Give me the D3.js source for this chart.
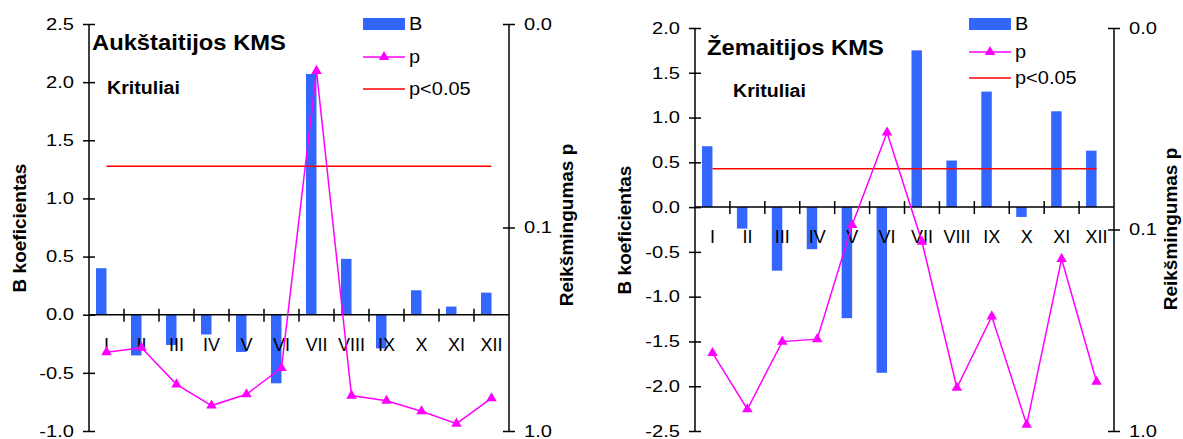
<!DOCTYPE html>
<html>
<head>
<meta charset="utf-8">
<script src="https://cdn.jsdelivr.net/npm/d3@7"></script>
<style>
  html, body { margin: 0; padding: 0; background: #fff; }
  svg { display: block; font-family: "Liberation Sans", Arial, sans-serif; }
</style>
</head>
<body>
<svg id="chart" width="1183" height="439"></svg>
<script>
// ---------- data ----------
const months = ["I", "II", "III", "IV", "V", "VI", "VII", "VIII", "IX", "X", "XI", "XII"];
const aukB = [0.40, -0.35, -0.26, -0.17, -0.32, -0.59, 2.07, 0.48, -0.29, 0.21, 0.07, 0.19];
const aukP = [0.41, 0.39, 0.59, 0.75, 0.66, 0.49, 0.017, 0.67, 0.71, 0.80, 0.92, 0.69];
const zemB = [0.68, -0.24, -0.71, -0.47, -1.24, -1.85, 1.75, 0.52, 1.29, -0.11, 1.07, 0.63];
const zemP = [0.41, 0.78, 0.36, 0.35, 0.095, 0.033, 0.115, 0.61, 0.27, 0.93, 0.14, 0.57];
const pThreshold = 0.05;
const aukBTicks = [-1.0, -0.5, 0.0, 0.5, 1.0, 1.5, 2.0, 2.5];
const zemBTicks = [-2.5, -2.0, -1.5, -1.0, -0.5, 0.0, 0.5, 1.0, 1.5, 2.0];
const pTicks = [0.01, 0.1, 1];
const legendLabels = ["B", "p", "p<0.05"];
const panelTitles = ["Aukštaitijos KMS", "Žemaitijos KMS"];
const subtitle = "Krituliai";
const yTitleLeft = "B koeficientas";
const yTitleRight = "Reikšmingumas p";

// ---------- layout ----------
const panels = [
  { title: panelTitles[0], B: aukB, P: aukP, bTicks: aukBTicks, bDomain: [-1.0, 2.5],
    x0: 89, x1: 509, top: 24, bottom: 431,
    titlePos: [92, 50], subPos: [107, 94],
    legX: 363, legY: [24, 57, 89],
    lTitleX: 19, lTitleY: 228, rTitleX: 566, rTitleY: 225 },
  { title: panelTitles[1], B: zemB, P: zemP, bTicks: zemBTicks, bDomain: [-2.5, 2.0],
    x0: 695, x1: 1114, top: 28, bottom: 431,
    titlePos: [707, 55], subPos: [733, 97],
    legX: 969, legY: [24, 52, 78],
    lTitleX: 624.5, lTitleY: 230, rTitleX: 1170, rTitleY: 229 }
];

const BAR = "#3366FF", PCOL = "#FF00FF", RED = "#FF0000";
const svg = d3.select("#chart");
svg.append("rect").attr("width", 1183).attr("height", 439).attr("fill", "#fff");

function txt(g, x, y, s, o) {
  o = o || {};
  const t = g.append("text")
    .attr("transform", `translate(${x},${y})` + (o.rot ? ` rotate(${o.rot})` : "") + ` scale(${o.sx || 1},1)`)
    .attr("font-size", o.size || 16)
    .attr("font-weight", o.weight || "normal")
    .attr("text-anchor", o.anchor || "start")
    .attr("fill", "#000")
    .text(s);
  if (o.mid) t.attr("dy", "0.35em");
  return t;
}

const tri = d3.symbol().type(d3.symbolTriangle).size(48);

panels.forEach(pn => {
  const g = svg.append("g");
  const x = d3.scaleBand().domain(months).range([pn.x0, pn.x1]).padding(0);
  const y = d3.scaleLinear().domain(pn.bDomain).range([pn.bottom, pn.top]);
  const yp = d3.scaleLog().domain([0.01, 1]).range([pn.top, pn.bottom]);
  const bw = x.bandwidth();
  const barW = bw * 0.3;
  const cx = m => x(m) + bw / 2;

  // bars
  g.append("g").selectAll("rect").data(months).join("rect")
    .attr("x", (m) => cx(m) - barW)
    .attr("width", barW)
    .attr("y", (m, i) => y(Math.max(0, pn.B[i])))
    .attr("height", (m, i) => Math.abs(y(pn.B[i]) - y(0)))
    .attr("fill", BAR);

  // left axis
  const la = g.append("g").attr("transform", `translate(${pn.x0},0)`)
    .call(d3.axisLeft(y).tickValues(pn.bTicks).tickSize(6).tickFormat(""));
  la.selectAll(".tick line").attr("x1", 6).attr("x2", -6).attr("stroke", "#000").attr("stroke-width", 1.5);
  la.select(".domain").attr("stroke", "#000").attr("stroke-width", 1.5).attr("d", `M0,${pn.top}V${pn.bottom}`);
  pn.bTicks.forEach(v => txt(g, pn.x0 - 15, y(v), d3.format(".1f")(v).replace("−", "-"),
    { anchor: "end", size: 16.5, sx: 1.22, mid: true }));

  // right axis (log p)
  const ra = g.append("g").attr("transform", `translate(${pn.x1},0)`)
    .call(d3.axisRight(yp).tickValues(pTicks).tickSize(6).tickFormat(""));
  ra.selectAll(".tick line").attr("x1", -6).attr("x2", 6).attr("stroke", "#000").attr("stroke-width", 1.5);
  ra.select(".domain").attr("stroke", "#000").attr("stroke-width", 1.5).attr("d", `M0,${pn.top}V${pn.bottom}`);
  pTicks.forEach(v => txt(g, pn.x1 + 15, yp(v), d3.format(".1f")(v),
    { anchor: "start", size: 16.5, sx: 1.22, mid: true }));

  // category axis at B = 0
  const y0 = y(0);
  g.append("line").attr("x1", pn.x0).attr("x2", pn.x1).attr("y1", y0).attr("y2", y0)
    .attr("stroke", "#000").attr("stroke-width", 1.5);
  g.append("g").selectAll("line").data(months.slice(1)).join("line")
    .attr("x1", m => x(m)).attr("x2", m => x(m))
    .attr("y1", y0 - 6).attr("y2", y0 + 7)
    .attr("stroke", "#000").attr("stroke-width", 1.5);
  months.forEach(m => txt(g, cx(m), y0 + 30, m, { anchor: "middle", size: 18, mid: true }));

  // threshold line
  g.append("line").attr("x1", cx(months[0])).attr("x2", cx(months[11]))
    .attr("y1", yp(pThreshold)).attr("y2", yp(pThreshold))
    .attr("stroke", RED).attr("stroke-width", 1.5);

  // p line
  const line = d3.line().x((d, i) => cx(months[i])).y(d => yp(d));
  g.append("path").datum(pn.P).attr("d", line).attr("fill", "none")
    .attr("stroke", PCOL).attr("stroke-width", 1.5);
  g.append("g").selectAll("path").data(pn.P).join("path")
    .attr("d", tri)
    .attr("transform", (d, i) => `translate(${cx(months[i])},${yp(d)})`)
    .attr("fill", PCOL);

  // titles
  txt(g, pn.titlePos[0], pn.titlePos[1], pn.title, { size: 22, weight: "bold", sx: 1.08 });
  txt(g, pn.subPos[0], pn.subPos[1], subtitle, { size: 17.5, weight: "bold", sx: 1.12 });
  txt(g, pn.lTitleX, pn.lTitleY, yTitleLeft, { size: 19, weight: "bold", anchor: "middle", rot: -90, mid: true });
  txt(g, pn.rTitleX, pn.rTitleY, yTitleRight, { size: 19, weight: "bold", anchor: "middle", rot: -90, mid: true });

  // legend
  const lx = pn.legX, lw = 42;
  g.append("rect").attr("x", lx).attr("y", pn.legY[0] - 6).attr("width", lw).attr("height", 12).attr("fill", BAR);
  g.append("line").attr("x1", lx).attr("x2", lx + lw).attr("y1", pn.legY[1]).attr("y2", pn.legY[1])
    .attr("stroke", PCOL).attr("stroke-width", 1.5);
  g.append("path").attr("d", tri).attr("transform", `translate(${lx + lw / 2},${pn.legY[1]})`).attr("fill", PCOL);
  g.append("line").attr("x1", lx).attr("x2", lx + lw).attr("y1", pn.legY[2]).attr("y2", pn.legY[2])
    .attr("stroke", RED).attr("stroke-width", 1.5);
  legendLabels.forEach((s, i) => txt(g, lx + lw + 4, pn.legY[i], s, { size: 18.5, sx: 1.08, mid: true }));
});
</script>
</body>
</html>
